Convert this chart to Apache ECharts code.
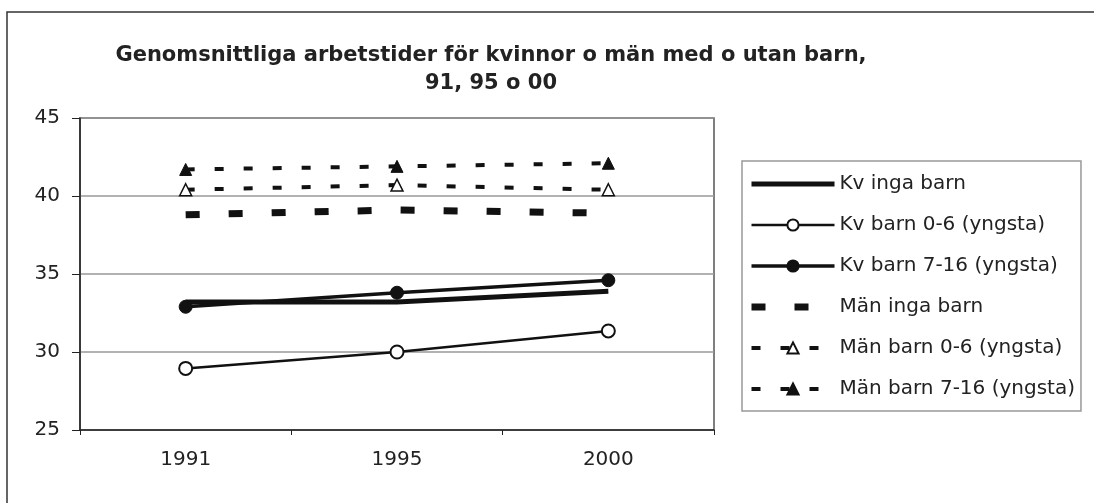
<!DOCTYPE html>
<html>
<head>
<meta charset="utf-8">
<script src="https://cdn.jsdelivr.net/npm/echarts@6/dist/echarts.min.js"></script>
<style>
  html, body { margin: 0; padding: 0; background: #fff; }
  #chart { width: 1094px; height: 503px; }
</style>
</head>
<body>
<div id="chart"></div>
<script>
const years = ['1991', '1995', '2000']
const kvIngaBarn = [33.2, 33.2, 33.9]
const kvBarn06 = [28.95, 30.0, 31.35]
const kvBarn716 = [32.9, 33.8, 34.6]
const manIngaBarn = [38.8, 39.1, 38.9]
const manBarn06 = [40.4, 40.7, 40.4]
const manBarn716 = [41.7, 41.9, 42.1]

const chart = echarts.init(document.getElementById('chart'))
const font = 'DejaVu Sans, sans-serif'
const noMark = { color: 'rgba(0,0,0,0)', borderWidth: 0 }

chart.setOption({
  animation: false,
  backgroundColor: '#fff',
  title: {
    text: 'Genomsnittliga arbetstider för kvinnor o män med o utan barn,\n91, 95 o 00',
    left: 486,
    top: 37,
    textAlign: 'center',
    textStyle: {
      fontFamily: font,
      fontSize: 21,
      fontWeight: 'bold',
      color: '#222',
      lineHeight: 28,
      align: 'center'
    }
  },
  // ram runt bilden (bara topp och vänster syns i originalet)
  graphic: [
    {
      type: 'polyline',
      shape: { points: [[7, 503], [7, 12], [1094, 12]] },
      style: { fill: 'none', stroke: '#333', lineWidth: 1.5 },
      silent: true
    }
  ],
  legend: {
    orient: 'vertical',
    left: 742,
    top: 161,
    padding: [13, 6, 12, 6],
    itemWidth: 83,
    itemHeight: 14,
    itemGap: 21,
    borderColor: '#999',
    borderWidth: 1.5,
    lineStyle: { width: 'inherit' },
    textStyle: { fontFamily: font, fontSize: 20, color: '#222' },
    data: [
      { name: 'Kv inga barn', itemStyle: noMark },
      { name: 'Kv barn 0-6 (yngsta)' },
      { name: 'Kv barn 7-16 (yngsta)' },
      { name: 'Män inga barn', itemStyle: noMark },
      { name: 'Män barn 0-6 (yngsta)' },
      { name: 'Män barn 7-16 (yngsta)' }
    ]
  },
  grid: {
    left: 80,
    right: 380,
    top: 118,
    bottom: 73,
    show: true,
    borderColor: '#555',
    borderWidth: 1.5
  },
  xAxis: {
    type: 'category',
    data: years,
    boundaryGap: true,
    axisLine: { lineStyle: { color: '#222', width: 1.5 } },
    axisTick: { show: true, length: 5, lineStyle: { color: '#222' } },
    axisLabel: { fontFamily: font, fontSize: 20, color: '#222', margin: 20 }
  },
  yAxis: {
    type: 'value',
    min: 25,
    max: 45,
    interval: 5,
    axisLine: { show: true, lineStyle: { color: '#222', width: 1.5 } },
    axisTick: { show: true, length: 8, lineStyle: { color: '#222' } },
    axisLabel: { fontFamily: font, fontSize: 20, color: '#222', margin: 20 },
    splitLine: { show: true, lineStyle: { color: '#999', width: 1.5 } }
  },
  series: [
    {
      name: 'Kv inga barn',
      type: 'line',
      data: kvIngaBarn,
      symbol: 'none',
      color: '#111',
      lineStyle: { color: '#111', width: 5 }
    },
    {
      name: 'Kv barn 0-6 (yngsta)',
      type: 'line',
      data: kvBarn06,
      symbol: 'circle',
      symbolSize: 13,
      color: '#111',
      itemStyle: { color: '#fff', borderColor: '#111', borderWidth: 2 },
      lineStyle: { color: '#111', width: 2.5 }
    },
    {
      name: 'Kv barn 7-16 (yngsta)',
      type: 'line',
      data: kvBarn716,
      symbol: 'circle',
      symbolSize: 13,
      color: '#111',
      itemStyle: { color: '#111', borderColor: '#111', borderWidth: 1 },
      lineStyle: { color: '#111', width: 3.5 }
    },
    {
      name: 'Män inga barn',
      type: 'line',
      data: manIngaBarn,
      symbol: 'none',
      color: '#111',
      lineStyle: { color: '#111', width: 7, type: [14, 29], cap: 'butt' }
    },
    {
      name: 'Män barn 0-6 (yngsta)',
      type: 'line',
      data: manBarn06,
      symbol: 'triangle',
      symbolSize: 12,
      color: '#111',
      itemStyle: { color: '#fff', borderColor: '#111', borderWidth: 1.5 },
      lineStyle: { color: '#111', width: 4, type: [9, 20], cap: 'butt' }
    },
    {
      name: 'Män barn 7-16 (yngsta)',
      type: 'line',
      data: manBarn716,
      symbol: 'triangle',
      symbolSize: 12,
      color: '#111',
      itemStyle: { color: '#111', borderColor: '#111', borderWidth: 1 },
      lineStyle: { color: '#111', width: 4, type: [9, 20], cap: 'butt' }
    }
  ]
})
</script>
</body>
</html>
